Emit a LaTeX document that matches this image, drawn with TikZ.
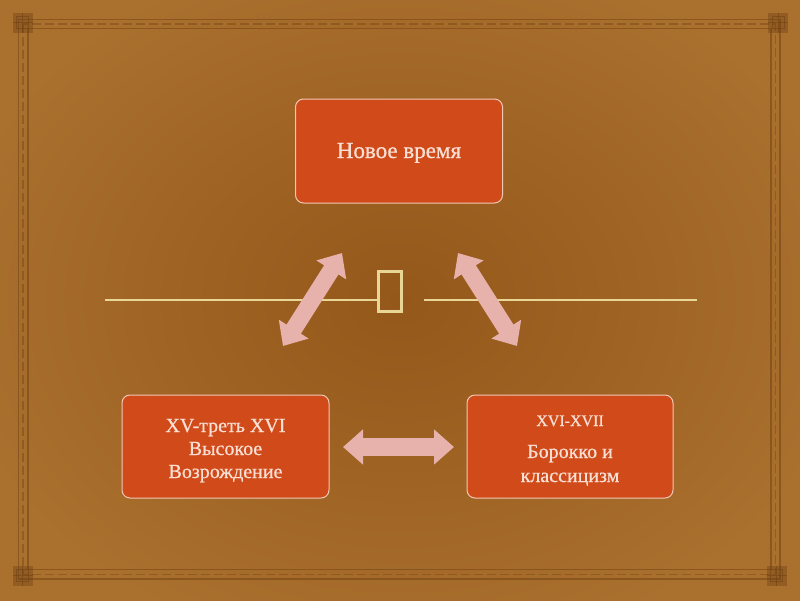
\documentclass[tikz,border=0pt]{standalone}
\usepackage{fontspec}
\setmainfont{Liberation Serif}[RawFeature={embolden=0.6}]
\usetikzlibrary{arrows.meta}
\definecolor{bgout}{RGB}{170,112,46}
\definecolor{bgin}{RGB}{148,88,26}
\definecolor{boxfill}{RGB}{209,74,26}
\definecolor{boxline}{RGB}{240,200,180}
\definecolor{boxtext}{RGB}{250,224,212}
\definecolor{arrowpink}{RGB}{232,178,172}
\definecolor{rulecol}{RGB}{232,214,150}
\definecolor{framecol}{RGB}{110,64,18}
\begin{document}
\begin{tikzpicture}[x=1pt,y=-1pt,
  box/.style={draw=boxline, line width=1pt, fill=boxfill, rounded corners=8pt,
    minimum width=207pt, minimum height=104pt, inner sep=0pt},
  txt/.style={text=boxtext, font=\fontsize{20}{23}\selectfont, anchor=base, inner sep=0pt},
  link/.style={draw=arrowpink, line width=17pt,
    {Triangle[width=34pt,length=20pt]}-{Triangle[width=34pt,length=20pt]}},
  rule/.style={draw=rulecol, line width=2pt},
  frameline/.style={draw=framecol, opacity=0.5, line width=1.3pt},
  chain/.style={draw=framecol, opacity=0.4, line width=1.6pt, dash pattern=on 9pt off 4pt},
  corner/.style={fill=framecol, opacity=0.4},
]
% background
\useasboundingbox (0,0) rectangle (800,600);
\shade[inner color=bgin, outer color=bgout] (-60,-60) rectangle (860,660);

% decorative frame
\draw[frameline] (18.5,19.5) rectangle (780,579);
\draw[frameline] (28,28.5) rectangle (771,569.5);
\draw[chain] (23.2,24) rectangle (775.5,574.3);
\foreach \cx/\cy in {22.5/22.5, 778/22.5, 22.5/575.5, 776.5/575.5}{
  \fill[corner] (\cx-10,\cy-10) rectangle (\cx+10,\cy+10);
  \draw[framecol, opacity=0.5, line width=0.8pt] (\cx-6,\cy-6) rectangle (\cx+6,\cy+6);
  \draw[framecol, opacity=0.5, line width=0.8pt] (\cx-10,\cy) -- (\cx+10,\cy) (\cx,\cy-10) -- (\cx,\cy+10);
}

% horizontal rules and glyph
\node[draw=rulecol, line width=3pt, minimum width=23pt, minimum height=40pt, inner sep=0pt] (glyph) at (390,291.5) {};
\coordinate (ra) at (105,300);
\coordinate (rb) at (377,300);
\coordinate (rc) at (424,300);
\coordinate (rd) at (697,300);
\draw[rule] (ra) -- (rb);
\draw[rule] (rc) -- (rd);

% boxes
\node[box] (top) at (399,151) {};
\node[box, minimum height=103pt] (left) at (225.5,446.5) {};
\node[box, minimum width=206pt, minimum height=103pt] (right) at (570,446.5) {};

% texts
\node[txt, font=\fontsize{23}{26}\selectfont] (t1) at (399,158) {Новое время};
\node[txt] (l1) at (225.5,432) {XV-треть XVI};
\node[txt] (l2) at (225.5,455) {Высокое};
\node[txt] (l3) at (225.5,478) {Возрождение};
\node[txt, font=\fontsize{16}{18}\selectfont] (r1) at (570,426) {XVI-XVII};
\node[txt] (r2) at (570,458) {Борокко и};
\node[txt] (r3) at (570,482) {классицизм};

% arrows
\coordinate (a1) at (283,346);
\coordinate (a2) at (342,253);
\coordinate (b1) at (458,253);
\coordinate (b2) at (517,346);
\coordinate (c1) at (343,447);
\coordinate (c2) at (454,447);
\draw[link] (a1) -- (a2);
\draw[link] (b1) -- (b2);
\draw[link, line width=18pt] (c1) -- (c2);
\end{tikzpicture}
\end{document}
